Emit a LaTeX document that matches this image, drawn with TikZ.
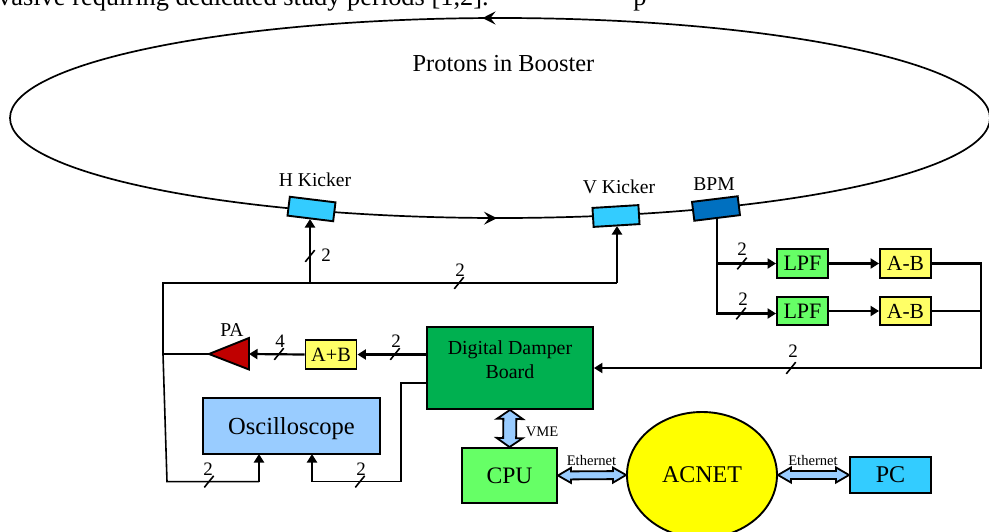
\documentclass[tikz,border=0pt]{standalone}
\usepackage{fontspec}
\setmainfont{Liberation Serif}
\usetikzlibrary{arrows.meta,calc,shapes.geometric}
\newcommand{\fs}[1]{\fontsize{#1}{#1}\selectfont}
\definecolor{cKick}{HTML}{33CCFF}
\definecolor{cBpm}{HTML}{0070C0}
\definecolor{cLpf}{HTML}{66FF66}
\definecolor{cYel}{HTML}{FFFF66}
\definecolor{cAcn}{HTML}{FFFF00}
\definecolor{cDmp}{HTML}{00B050}
\definecolor{cOsc}{HTML}{99CCFF}
\definecolor{cPa}{HTML}{C00000}
\tikzset{
  ring/.style={line width=1.7pt},
  bus/.style={line width=2.2pt,-{Triangle[length=8.5pt,width=10pt]}},
  busplain/.style={line width=2.2pt},
  thinbus/.style={line width=1.6pt},
  box/.style={draw=black,line width=1.9pt,inner sep=0pt,align=center},
  kick/.style={box,minimum width=46pt,minimum height=19pt},
  small/.style={inner sep=0pt,font=\fs{19.6}},
  busnum/.style={inner sep=0pt,font=\fs{19}},
  eth/.style={inner sep=0pt,font=\fs{14.6}},
  tickline/.style={line width=1.6pt},
  dbl/.style={draw=black,line width=1.8pt,fill=cOsc,line join=miter},
}
% bus mark: name, x, y of line, x, y of digit, digit
\newcommand{\busmark}[6]{%
  \coordinate (#1) at (#2,#3);
  \draw[tickline] ($(#1)+(-4.7,5.8)$) -- ($(#1)+(4.7,-5.8)$);
  \node[busnum] (#1n) at (#4,#5) {#6};
}
% double arrow between two named points: a, b, head length, half head width, half shaft width
\newcommand{\dblconn}[5]{%
  \draw[dbl] (#1) -- ($(#1)!#3pt!(#2)!#4pt!90:(#2)$) -- ($(#1)!#3pt!(#2)!#5pt!90:(#2)$)
    -- ($(#2)!#3pt!(#1)!#5pt!-90:(#1)$) -- ($(#2)!#3pt!(#1)!#4pt!-90:(#1)$) -- (#2)
    -- ($(#2)!#3pt!(#1)!#4pt!90:(#1)$) -- ($(#2)!#3pt!(#1)!#5pt!90:(#1)$)
    -- ($(#1)!#3pt!(#2)!#5pt!-90:(#2)$) -- ($(#1)!#3pt!(#2)!#4pt!-90:(#2)$) -- cycle;
}
\begin{document}
\begin{tikzpicture}[x=1pt,y=-1pt]
\useasboundingbox (0,0) rectangle (989,531);
\clip (0,0) rectangle (989,531);

% clipped text of the page above the figure
\node[anchor=base west,inner sep=0pt,font=\fs{26.4}] (pagetext) at (-2,5) {vasive requiring dedicated study periods [1,2].};
\node[anchor=base,inner sep=0pt,font=\fs{26.4}] (pagetextb) at (640,5) {p};

% ring
\draw[ring] (500,118) ellipse [x radius=490,y radius=100];
\coordinate (ringTa) at (500,18);
\coordinate (ringTb) at (482.5,18);
\coordinate (ringBa) at (478,218.2);
\coordinate (ringBb) at (497,218.2);
\draw[ring,-{Stealth[length=13pt,width=13pt,inset=5pt]}] (ringTa) -- (ringTb);
\draw[ring,-{Stealth[length=13pt,width=13pt,inset=5pt]}] (ringBa) -- (ringBb);
\node[inner sep=0pt,font=\fs{24.4}] (protons) at (503.5,64) {Protons in Booster};

% kickers and BPM
\node[kick,fill=cKick,rotate=-7] (hk) at (311.5,209) {};
\node[kick,fill=cKick,rotate=3.5] (vk) at (616,216) {};
\node[kick,fill=cBpm,rotate=7] (bpm) at (716,208.5) {};
\node[small] (hkl) at (315,179.5) {H Kicker};
\node[small] (vkl) at (619,186.5) {V Kicker};
\node[small] (bpml) at (714,184.5) {BPM};

% boxes
\node[box,fill=cLpf,minimum width=51pt,minimum height=28.5pt,font=\fs{22}] (lpfa) at (802.5,263.5) {LPF};
\node[box,fill=cLpf,minimum width=51pt,minimum height=28.5pt,font=\fs{22}] (lpfb) at (802.5,311) {LPF};
\node[box,fill=cYel,minimum width=51pt,minimum height=28.5pt,font=\fs{21.5}] (aba) at (905.5,263.5) {A-B};
\node[box,fill=cYel,minimum width=51pt,minimum height=28.5pt,font=\fs{21.5}] (abb) at (905.5,311) {A-B};
\node[box,fill=cYel,minimum width=51pt,minimum height=28.5pt,font=\fs{20.3}] (apb) at (331,354.5) {A+B};
\node[box,fill=cDmp,minimum width=166pt,minimum height=82pt] (dmp) at (510,368) {};
\node[inner sep=0pt,font=\fs{19.9}] (dmpa) at (510,349.5) {Digital Damper};
\node[inner sep=0pt,font=\fs{19.9}] (dmpb) at (510,372) {Board};
\node[box,fill=cOsc,minimum width=177pt,minimum height=56pt,font=\fs{24.5},text depth=0pt] (osc) at (291.5,426) {Oscilloscope};
\node[box,fill=cLpf,minimum width=95pt,minimum height=55pt,font=\fs{23.6}] (cpu) at (509.5,475.5) {CPU};
\node[box,fill=cAcn,ellipse,minimum width=150pt,minimum height=126pt,font=\fs{24}] (acnet) at (702,475) {ACNET};
\node[box,fill=cKick,minimum width=81pt,minimum height=36pt,font=\fs{24}] (pc) at (890.5,475) {PC};

% PA
\coordinate (paTip) at (209,354);
\coordinate (paTop) at (249,338);
\coordinate (paBot) at (249,369.5);
\coordinate (paBase) at (249,354);
\draw[line width=1.9pt,fill=cPa] (paTip) -- (paTop) -- (paBot) -- cycle;
\node[small] (pal) at (232,330) {PA};

% BPM to filters
\coordinate (bpmS) at (717,217.5);
\coordinate (ja) at (717,263.5);
\coordinate (jb) at (717,313.5);
\coordinate (lpfbIn) at (lpfb.west |- jb);
\draw[busplain,line join=miter] (bpmS) -- (jb) -- ++(20,0);
\draw[bus] (ja) -- (lpfa.west);
\draw[bus] (jb) -- (lpfbIn);
\draw[bus] (lpfa.east) -- (aba.west);
\draw[bus] (lpfb.east) -- (abb.west);
\busmark{ta}{742}{263.5}{742}{249}{2}
\busmark{tb}{741}{313.5}{743}{299}{2}

% filters to damper
\coordinate (ca) at (981,263.5);
\coordinate (cb) at (981,311);
\coordinate (cc) at (981,368);
\draw[busplain,line join=miter] (aba.east) -- (ca) -- (cc) -- ++(-20,0);
\draw[thinbus] (abb.east) -- (cb);
\draw[bus] (cc) -- (dmp.east);
\busmark{tc}{791}{368}{793}{351}{2}

% damper to PA
\draw[bus] (dmp.west |- apb.east) -- (apb.east);
\coordinate (apbOut) at (apb.west);
\draw[bus] (apbOut) -- (paBase);
\busmark{td}{395}{354}{396}{341}{2}
\busmark{te}{279}{354}{280}{341}{4}

% PA to kickers and scope
\coordinate (la) at (163,354);
\coordinate (lb) at (163,283);
\coordinate (lc) at (167,481.6);
\coordinate (hkJ) at (310,283);
\coordinate (vkJ) at (617,283);
\coordinate (hkIn) at (310,219);
\coordinate (vkIn) at (617,226);
\coordinate (oscA) at (259,481.6);
\coordinate (oscAin) at (259,454);
\draw[thinbus] (paTip) -- (la);
\draw[thinbus,line join=miter] (hkJ) -- (lb) -- (la) -- (lc) -- (oscA);
\draw[busplain] (hkJ) -- (vkJ);
\draw[bus] (vkJ) -- (vkIn);
\draw[bus] (hkJ) -- (hkIn);
\draw[bus] (oscA) -- (oscAin);
\busmark{tf}{310}{256}{326}{255}{2}
\busmark{tg}{459}{283}{460}{270}{2}
\busmark{th}{209}{481.6}{208}{469}{2}

% damper to scope
\coordinate (da) at (427,383);
\coordinate (db) at (401,383);
\coordinate (dc) at (401,481.6);
\coordinate (dd) at (312,481.6);
\coordinate (de) at (312,454);
\draw[thinbus,line join=miter] (da) -- (db) -- (dc) -- (dd);
\draw[bus] (dd) -- (de);
\busmark{ti}{360}{481.6}{361}{469}{2}

% double arrows
\dblconn{dmp.south}{cpu.north}{9}{13}{6.5}
\dblconn{cpu.east}{acnet.west}{13}{7.5}{4}
\dblconn{acnet.east}{pc.west}{13}{7.5}{4}
\node[eth] (vme) at (542,431.5) {VME};
\node[eth] (etha) at (591.5,460) {Ethernet};
\node[eth] (ethb) at (813,460) {Ethernet};
\end{tikzpicture}
\end{document}
